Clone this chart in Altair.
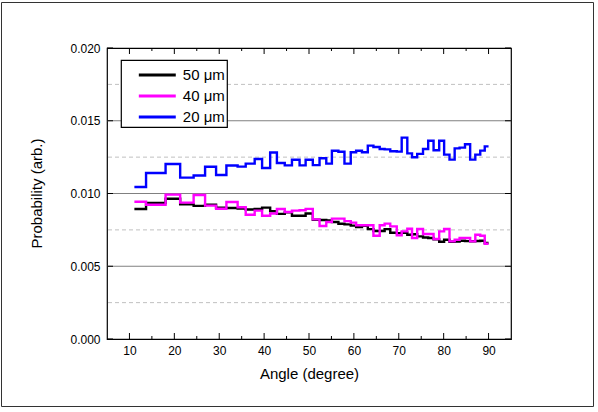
import altair as alt
import pandas as pd

# bin edges (degree) shared by the three histograms
edges = [11.1, 13.7, 15.95, 18.05, 21.3, 24.3, 26.85, 29.3, 31.6, 34.1, 35.9, 37.9,
         39.55, 41.35, 42.85, 44.6, 46.2, 47.9, 49.25, 50.85, 52.35, 53.85, 55.1, 56.55,
         57.9, 59.3, 60.5, 61.8, 63.1, 64.35, 65.75, 66.85, 68.1, 69.55, 70.65, 71.9,
         72.95, 74.1, 75.4, 76.55, 77.75, 79.0, 80.1, 81.3, 82.45, 83.55, 84.75, 85.9,
         87.05, 88.15, 89.15, 90.0]

# probabilities in units of 1e-3
p50 = [8.93, 9.35, 9.35, 9.64, 9.25, 9.15, 9.23, 9.02, 9.0, 8.96, 8.9, 8.93, 9.03,
       8.78, 8.6, 8.7, 8.47, 8.47, 8.63, 8.2, 8.18, 8.15, 8.04, 7.92, 7.88, 7.79, 7.7,
       7.78, 7.55, 7.42, 7.42, 7.55, 7.3, 7.28, 7.3, 7.17, 7.2, 7.05, 6.98, 6.94, 6.85,
       6.68, 6.82, 6.68, 6.7, 6.75, 6.73, 6.72, 6.74, 6.75, 6.6]
p40 = [9.43, 9.23, 9.23, 9.92, 9.37, 9.9, 9.17, 8.95, 9.42, 9.05, 8.54, 8.82, 8.47,
       8.63, 8.93, 8.73, 8.82, 8.85, 8.94, 8.22, 7.77, 8.04, 8.27, 8.27, 8.1, 8.0, 7.82,
       7.82, 7.82, 7.1, 7.82, 7.93, 7.74, 7.12, 7.4, 7.58, 6.94, 7.56, 7.22, 7.22, 6.87,
       7.4, 7.56, 6.71, 6.82, 6.94, 6.94, 6.71, 7.17, 7.1, 6.55]
p20 = [10.45, 11.41, 11.41, 12.03, 11.09, 11.24, 11.84, 11.27, 11.92, 11.85, 12.05,
       12.37, 11.75, 12.82, 12.10, 11.93, 12.32, 11.93, 12.32, 11.95, 12.42, 12.05, 12.94,
       12.87, 12.05, 12.83, 12.94, 12.83, 13.29, 13.2, 13.06, 13.03, 12.9, 12.88, 13.84,
       12.76, 12.49, 12.72, 13.06, 13.63, 12.97, 13.63, 12.67, 12.33, 13.1, 13.15, 13.38,
       12.33, 12.67, 12.95, 13.24]

series_names = ["50 μm", "40 μm", "20 μm"]
series_colors = ["#000000", "#ff00ff", "#0000ff"]
series_values = [p50, p40, p20]

y_major = [0.005, 0.010, 0.015]
y_minor = [0.0025, 0.0075, 0.0125, 0.0175]
y_ticks = [0.0, 0.005, 0.010, 0.015, 0.020]
x_major = [10, 20, 30, 40, 50, 60, 70, 80, 90]
x_minor = [15, 25, 35, 45, 55, 65, 75, 85]

rows = []
for name, vals in zip(series_names, series_values):
    for i, e in enumerate(edges):
        v = vals[i] if i < len(vals) else vals[-1]
        rows.append({"series": name, "angle": e, "prob": v / 1000.0})
df = pd.DataFrame(rows)

W, H = 404, 291
FONT = "Liberation Sans"

xscale = alt.Scale(domain=[5, 95], nice=False, zero=False)
yscale = alt.Scale(domain=[0, 0.02], nice=False)

xaxis = alt.Axis(values=x_major, title="Angle (degree)", grid=False, ticks=False,
                 tickSize=0, domain=False, labelFontSize=12, labelFont=FONT,
                 labelColor="#000000", labelPadding=6, titleFont=FONT,
                 titleFontSize=15, titleFontWeight="normal", titleColor="#000000",
                 titleY=34, titleBaseline="middle")
yaxis = alt.Axis(values=y_ticks, format=".3f", title="Probability (arb.)", grid=False,
                 ticks=False, tickSize=0, domain=False, labelFontSize=12,
                 labelFont=FONT, labelColor="#000000", labelPadding=7,
                 titleFont=FONT, titleFontSize=15, titleFontWeight="normal",
                 titleColor="#000000", titleX=-71, titleY=145, titleAngle=270,
                 titleAlign="center", titleBaseline="middle")

X = alt.X("angle:Q", scale=xscale, axis=xaxis)
Y = alt.Y("prob:Q", scale=yscale, axis=yaxis)

pad = "\u00a0" * 11 + "\u2009"
color = alt.Color(
    "series:N",
    scale=alt.Scale(domain=series_names, range=series_colors),
    legend=alt.Legend(orient="none", legendX=14, legendY=12,
                      title="\u00a0", titleFontSize=1, titlePadding=3.5,
                      strokeColor="#000000", padding=2,
                      fillColor="#ffffff", symbolType="M-2.64,0L2.64,0",
                      symbolStrokeWidth=3, symbolSize=196, symbolOffset=25.8,
                      labelFontSize=15, labelFont=FONT, labelColor="#000000",
                      labelOffset=17, rowPadding=4,
                      labelExpr="datum.label + '" + pad + "'"),
)

grid_minor = alt.Chart(pd.DataFrame({"prob": y_minor})).mark_rule(
    color="#c0c0c0", strokeWidth=1, strokeDash=[4, 3]).encode(y=Y)
grid_major = alt.Chart(pd.DataFrame({"prob": y_major})).mark_rule(
    color="#808080", strokeWidth=1.2).encode(y=Y)

line_layers = []
for name in ["20 μm", "50 μm", "40 μm"]:
    line_layers.append(
        alt.Chart(df).transform_filter(alt.datum.series == name)
        .mark_line(interpolate="step-after", strokeWidth=2.4)
        .encode(x=X, y=Y, color=color)
    )

ydf = pd.DataFrame({"prob": y_ticks})
left_ticks = alt.Chart(ydf).mark_rule(color="#000000", strokeWidth=1).encode(
    y=Y, x=alt.value(0), x2=alt.value(6))
right_ticks = alt.Chart(ydf).mark_rule(color="#000000", strokeWidth=1).encode(
    y=Y, x=alt.value(W - 6), x2=alt.value(W))
xmaj = pd.DataFrame({"angle": x_major})
xmin = pd.DataFrame({"angle": x_minor})
bottom_major = alt.Chart(xmaj).mark_rule(color="#000000", strokeWidth=1).encode(
    x=X, y=alt.value(H), y2=alt.value(H - 6))
bottom_minor = alt.Chart(xmin).mark_rule(color="#000000", strokeWidth=1).encode(
    x=X, y=alt.value(H), y2=alt.value(H - 3))
top_major = alt.Chart(xmaj).mark_rule(color="#000000", strokeWidth=1).encode(
    x=X, y=alt.value(0), y2=alt.value(6))
top_minor = alt.Chart(xmin).mark_rule(color="#000000", strokeWidth=1).encode(
    x=X, y=alt.value(0), y2=alt.value(3))

border = alt.Chart(pd.DataFrame({"k": [0]})).mark_rect(
    filled=False, stroke="#333333", strokeWidth=1).encode(
    x=alt.value(-105.5), x2=alt.value(486.5), y=alt.value(-45.5), y2=alt.value(358.5))

chart = alt.layer(
    grid_minor, grid_major, *line_layers, left_ticks, right_ticks,
    bottom_major, bottom_minor, top_major, top_minor, border
).properties(
    width=W, height=H,
    autosize=alt.AutoSizeParams(type="none"),
    padding={"left": 107, "top": 48, "right": 87, "bottom": 73},
    background="#ffffff",
).configure_view(stroke="#000000", strokeWidth=1.2
).configure_legend(strokeWidth=1.2)

chart.save("out.html", embed_options={"renderer": "svg", "actions": False})
